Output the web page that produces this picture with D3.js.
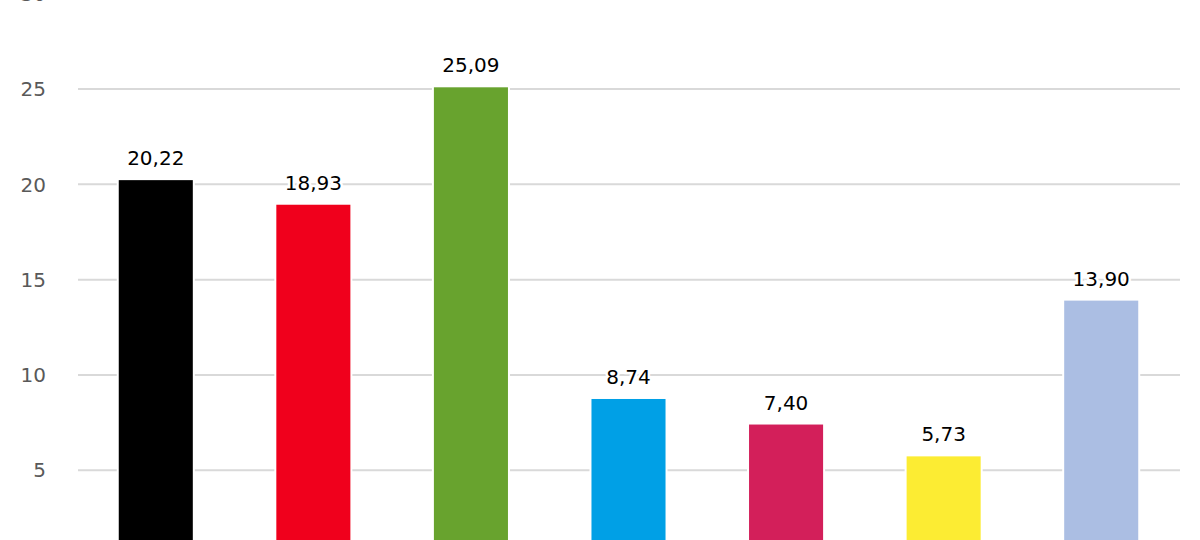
<!DOCTYPE html>
<html>
<head>
<meta charset="utf-8">
<script src="https://cdn.jsdelivr.net/npm/d3@7"></script>
<style>
  html, body { margin: 0; padding: 0; background: #fff; overflow: hidden; }
  svg { display: block; font-family: "DejaVu Sans", Verdana, sans-serif; }
</style>
</head>
<body>
<svg id="chart"></svg>
<script>
// chart data
const categories = ["A", "B", "C", "D", "E", "F", "G"];
const values = [20.22, 18.93, 25.09, 8.74, 7.40, 5.73, 13.90];
const colors = ["#000000", "#f0001c", "#68a32e", "#00a0e6", "#d31f5a", "#fcec33", "#abbee3"];
const yTicks = [5, 10, 15, 20, 25, 30];

const width = 1200, height = 540;
const svg = d3.select("#chart")
    .attr("width", width)
    .attr("height", height);

// the picture is cropped: 0 sits below the bottom edge, 30 just above the top
const y = d3.scaleLinear().domain([0, 30]).range([565.6, -6.3]);
const x = d3.scaleBand().domain(categories).range([77, 1180]).paddingInner(0.53).paddingOuter(0.265);

const fmt = v => d3.format(".2f")(v).replace(".", ",");

// gridlines
svg.append("g")
    .selectAll("line")
    .data(yTicks)
    .join("line")
    .attr("x1", 78)
    .attr("x2", 1180)
    .attr("y1", d => y(d))
    .attr("y2", d => y(d))
    .attr("stroke", "#d9d9d9")
    .attr("stroke-width", 2);

// y tick labels
svg.append("g")
    .selectAll("text")
    .data(yTicks)
    .join("text")
    .attr("x", 46)
    .attr("y", d => y(d))
    .attr("dy", "0.36em")
    .attr("text-anchor", "end")
    .attr("fill", "#595959")
    .attr("font-size", 20)
    .text(d => d);

// bars (white outline leaves the small gap where gridlines meet a bar)
svg.append("g")
    .selectAll("rect")
    .data(values)
    .join("rect")
    .attr("x", (d, i) => x(categories[i]) - 1)
    .attr("width", x.bandwidth() + 2)
    .attr("y", d => y(d) - 1)
    .attr("height", d => y(0) - y(d) + 1)
    .attr("fill", (d, i) => colors[i])
    .attr("stroke", "#fff")
    .attr("stroke-width", 2);

// value labels
svg.append("g")
    .selectAll("text")
    .data(values)
    .join("text")
    .attr("x", (d, i) => x(categories[i]) + x.bandwidth() / 2)
    .attr("y", d => y(d) - 15)
    .attr("text-anchor", "middle")
    .attr("fill", "#000")
    .attr("stroke", "#fff")
    .attr("stroke-width", 5)
    .attr("paint-order", "stroke")
    .attr("font-size", 20)
    .text(d => fmt(d));
</script>
</body>
</html>
